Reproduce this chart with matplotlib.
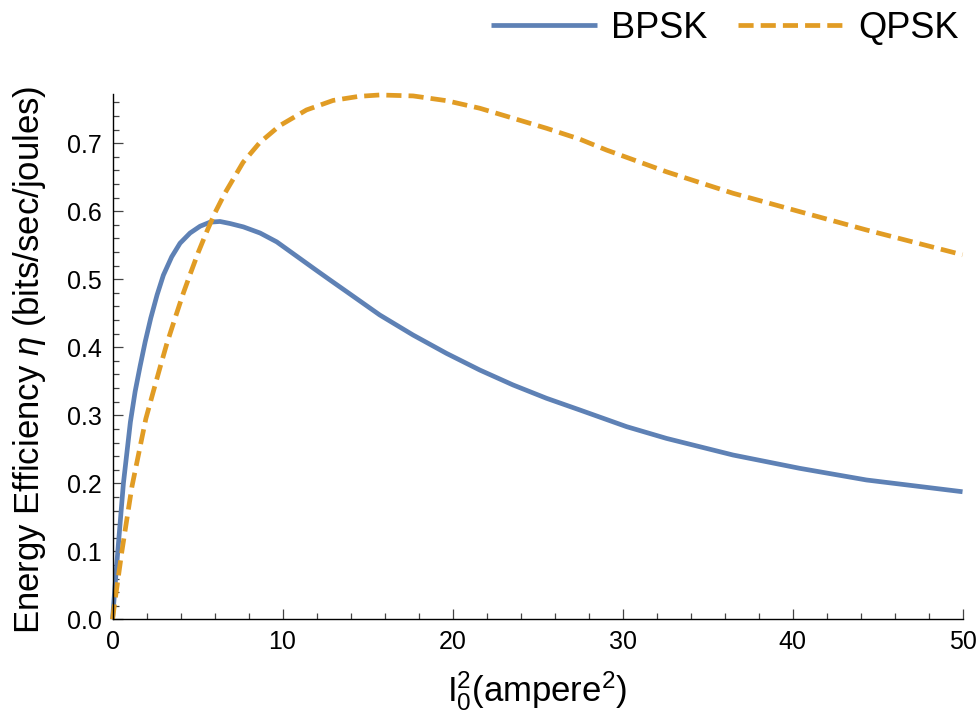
import matplotlib
matplotlib.use("Agg")
import matplotlib.pyplot as plt
from matplotlib.ticker import MultipleLocator, FormatStrFormatter

plt.rcParams['font.family'] = ['Liberation Sans', 'DejaVu Sans']
plt.rcParams['mathtext.fontset'] = 'custom'
plt.rcParams['mathtext.rm'] = 'Liberation Sans'
plt.rcParams['mathtext.it'] = 'Liberation Sans:italic'

# ---- data ----
bpsk_x = [0, 0.15, 0.31, 0.64, 1.05, 1.33, 1.62, 1.92, 2.25, 2.62, 2.99, 3.48, 3.97, 4.56,
          5.15, 5.74, 6.32, 6.91, 7.7, 8.68, 9.66, 10.83, 12.0, 12.79, 13.76, 15.72,
          17.68, 19.65, 21.6, 23.56, 25.53, 27.49, 30.24, 32.59, 36.5, 40.43, 44.35, 50]
bpsk_y = [0, 0.05, 0.1, 0.2, 0.29, 0.335, 0.372, 0.408, 0.443, 0.477, 0.506, 0.533, 0.553,
          0.568, 0.578, 0.584, 0.585, 0.582, 0.577, 0.568, 0.555, 0.534, 0.513, 0.499,
          0.482, 0.4475, 0.418, 0.391, 0.3666, 0.3446, 0.325, 0.3078, 0.2833, 0.266,
          0.2416, 0.222, 0.2049, 0.1876]

qpsk_x = [0, 0.16, 0.55, 1.14, 1.96, 2.4, 2.79, 3.19, 3.68, 4.17, 4.56, 5.05, 5.54, 6.03,
          6.62, 7.68, 8.66, 9.84, 11.41, 12.98, 14.5, 15.72, 17.68, 19.65, 21.6, 23.56,
          25.53, 27.49, 29.06, 32.59, 36.5, 40.43, 44.35, 50]
qpsk_y = [0, 0.03, 0.1, 0.195, 0.295, 0.335, 0.37, 0.405, 0.443, 0.48, 0.507, 0.54, 0.57,
          0.598, 0.627, 0.672, 0.701, 0.726, 0.749, 0.763, 0.769, 0.771, 0.7696, 0.7626,
          0.7515, 0.7368, 0.722, 0.706, 0.690, 0.658, 0.6265, 0.5994, 0.5725, 0.536]

series_names = ['BPSK', 'QPSK']
x_ticks = [0, 10, 20, 30, 40, 50]
y_ticks = [0.0, 0.1, 0.2, 0.3, 0.4, 0.5, 0.6, 0.7]

blue = '#5E81B5'
orange = '#E19C24'

fig = plt.figure(figsize=(9.76, 7.22), dpi=100)
ax = fig.add_axes([0.1153, 0.1422, 0.8709, 0.7272])

lw = 3.4
ax.plot(bpsk_x, bpsk_y, color=blue, lw=lw, label=series_names[0], solid_capstyle='butt',
        solid_joinstyle='round', clip_on=False)
ax.plot(qpsk_x, qpsk_y, color=orange, lw=lw, label=series_names[1],
        dashes=(3.2, 1.5), dash_capstyle='butt', clip_on=False)

ax.set_xlim(0, 50)
ax.set_ylim(0, 0.772)
ax.set_xticks(x_ticks)
ax.set_yticks(y_ticks)
ax.yaxis.set_major_formatter(FormatStrFormatter('%.1f'))
ax.xaxis.set_minor_locator(MultipleLocator(2))
ax.yaxis.set_minor_locator(MultipleLocator(0.02))

for s in ['top', 'right']:
    ax.spines[s].set_visible(False)
for s in ['left', 'bottom']:
    ax.spines[s].set_color('black')
    ax.spines[s].set_linewidth(1.0)

ax.tick_params(which='major', direction='in', length=7.2, width=0.9, color='#444444',
               labelsize=18, pad=8)
ax.tick_params(which='minor', direction='in', length=4.0, width=0.9, color='#444444')

ax.set_ylabel(r'Energy Efficiency $\mathit{\eta}$ (bits/sec/joules)', fontsize=25)
ax.yaxis.set_label_coords(-0.076, 0.494)
ax.set_xlabel(r'$\mathregular{I_0^2(ampere^2)}$', fontsize=25, va='top')
ax.xaxis.set_label_coords(0.5, -0.095)

fig.legend(loc='center right', bbox_to_anchor=(0.982, 0.961), ncol=2, frameon=False,
           fontsize=26, handlelength=2.94, handletextpad=0.39, columnspacing=0.83,
           borderpad=0, borderaxespad=0)

fig.savefig('out.png', dpi=100)
